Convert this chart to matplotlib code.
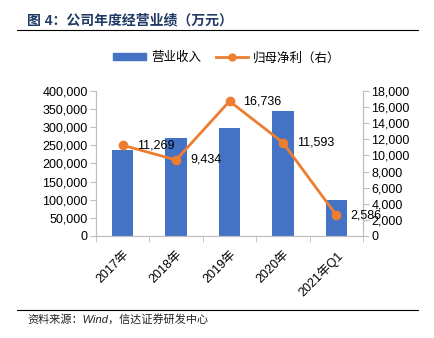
import matplotlib
matplotlib.use("Agg")
import matplotlib.pyplot as plt
from matplotlib.lines import Line2D
import numpy as np

plt.rcParams["font.family"] = ["Liberation Sans", "Noto Sans CJK SC"]

# 数据
categories = ["2017年", "2018年", "2019年", "2020年", "2021年Q1"]
revenue = [237000, 269500, 298500, 345500, 99000]
net_profit = [11269, 9434, 16736, 11593, 2586]

BAR_COLOR = "#4472C4"
LINE_COLOR = "#ED7D31"
AXIS_GRAY = "#BFBFBF"

fig = plt.figure(figsize=(4.35, 3.38), dpi=100)
ax = fig.add_axes([0.2207, 0.3018, 0.6138, 0.429])
ax2 = ax.twinx()

x = np.arange(len(categories))
ax.bar(x, revenue, width=0.4, color=BAR_COLOR, zorder=2)
ax2.plot(x, net_profit, color=LINE_COLOR, lw=2, marker="o", ms=6, zorder=3)
for xi, v in zip(x, net_profit):
    ax2.annotate(f"{v:,}", (xi, v), xytext=(10, 0), textcoords="offset points",
                 ha="left", va="center", fontsize=9, color="black")

ax.set_xlim(-0.5, len(categories) - 0.5)
ax.set_ylim(0, 400000)
ax.set_yticks(np.arange(0, 400001, 50000))
ax.set_yticklabels([f"{v:,}" for v in range(0, 400001, 50000)], fontsize=9)
ax2.set_ylim(0, 18000)
ax2.set_yticks(np.arange(0, 18001, 2000))
ax2.set_yticklabels([f"{v:,}" for v in range(0, 18001, 2000)], fontsize=9)

ax.set_xticks(x)
ax.set_xticklabels(categories, rotation=45, ha="right", va="top",
                   rotation_mode="anchor", fontsize=9)
ax.set_xticks(np.arange(-0.5, len(categories)), minor=True)
ax.tick_params(axis="x", which="major", length=0, pad=9)
ax.tick_params(axis="x", which="minor", length=4, color=AXIS_GRAY)
ax.tick_params(axis="y", length=4, color=AXIS_GRAY, pad=2)
ax2.tick_params(axis="y", length=4, color=AXIS_GRAY, pad=2)

for a in (ax, ax2):
    a.spines["top"].set_visible(False)
    for s in ("left", "right", "bottom"):
        a.spines[s].set_color(AXIS_GRAY)

# 标题 & 来源
fig.text(0.062, 0.938, "图 4：公司年度经营业绩（万元）", fontsize=10,
         fontweight="bold", color="#1F3864", va="center", ha="left")
fig.add_artist(Line2D([0.039, 0.961], [0.911, 0.911], color="black", lw=0.8))
fig.add_artist(Line2D([0.039, 0.961], [0.083, 0.083], color="black", lw=0.8))
fig.text(0.062, 0.056, "资料来源：Wind，信达证券研发中心", fontsize=8,
         style="italic", color="#222222", va="center", ha="left")

# 图例
handles = [
    plt.Rectangle((0, 0), 1, 1, color=BAR_COLOR),
    Line2D([], [], color=LINE_COLOR, lw=2, marker="o", ms=5),
]
fig.legend(handles, ["营业收入", "归母净利（右）"], loc="center",
           bbox_to_anchor=(0.522, 0.828), ncol=2, frameon=False, fontsize=9,
           handlelength=2.6, handleheight=0.5, columnspacing=1.2, handletextpad=0.4)

fig.savefig("out.png", dpi=100)
